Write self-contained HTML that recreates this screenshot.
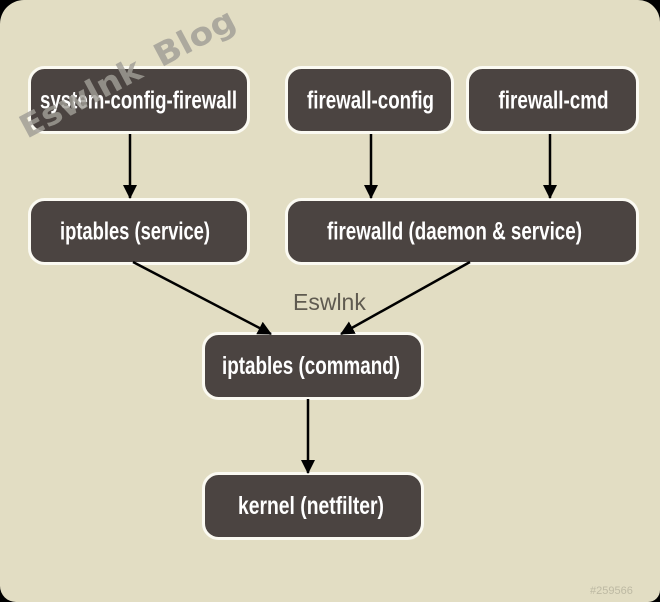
<!DOCTYPE html>
<html><head><meta charset="utf-8"><style>
html,body{margin:0;padding:0;background:#000;}
body{width:660px;height:602px;overflow:hidden;position:relative;}
.bg{position:absolute;left:0;top:0;width:660px;height:602px;background:#e2ddc3;border-radius:24px 22px 12px 16px;}
svg{position:absolute;left:0;top:0;}
text{font-family:"Liberation Sans",sans-serif;}
</style></head><body>
<div class="bg"></div>
<svg width="660" height="602" viewBox="0 0 660 602">
<defs>
<marker id="ah" markerWidth="15" markerHeight="14" refX="13" refY="7" orient="auto" markerUnits="userSpaceOnUse">
<path d="M0,0 L14,7 L0,14 Z" fill="#000"/>
</marker>
</defs>
<g fill="#4b4441" stroke="#fbfaf2" stroke-width="3">
<rect x="29.5" y="67.5" width="219" height="65" rx="15"/>
<rect x="286.5" y="67.5" width="166" height="65" rx="15"/>
<rect x="467.5" y="67.5" width="170" height="65" rx="15"/>
<rect x="29.5" y="199.5" width="219" height="64" rx="15"/>
<rect x="286.5" y="199.5" width="351" height="64" rx="15"/>
<rect x="203.5" y="333.5" width="219" height="65" rx="15"/>
<rect x="203.5" y="473.5" width="219" height="65" rx="15"/>
</g>
<g stroke="#000" stroke-width="2.5" fill="none" marker-end="url(#ah)">
<line x1="130" y1="134" x2="130" y2="198"/>
<line x1="371" y1="134" x2="371" y2="198"/>
<line x1="550" y1="134" x2="550" y2="198"/>
<line x1="133" y1="262" x2="271" y2="334"/>
<line x1="470" y1="262" x2="341" y2="334"/>
<line x1="308" y1="399" x2="308" y2="473"/>
</g>
<g fill="#ffffff" font-size="25" font-weight="bold" text-anchor="middle">
<text x="138.5" y="108.5" textLength="197" lengthAdjust="spacingAndGlyphs">system-config-firewall</text>
<text x="370.5" y="108.5" textLength="127" lengthAdjust="spacingAndGlyphs">firewall-config</text>
<text x="553.5" y="108.5" textLength="110" lengthAdjust="spacingAndGlyphs">firewall-cmd</text>
<text x="135" y="239.5" textLength="150" lengthAdjust="spacingAndGlyphs">iptables (service)</text>
<text x="454.5" y="239.5" textLength="255" lengthAdjust="spacingAndGlyphs">firewalld (daemon &amp; service)</text>
<text x="311" y="374" textLength="178" lengthAdjust="spacingAndGlyphs">iptables (command)</text>
<text x="311" y="514" textLength="146" lengthAdjust="spacingAndGlyphs">kernel (netfilter)</text>
</g>
<text x="293" y="310" font-size="23" fill="#5f5a50">Eswlnk</text>
<text x="590" y="594" font-size="11" fill="#bdb9a3">#259566</text>
<g transform="translate(27,139) rotate(-28)" font-size="32" font-weight="bold" fill="#a09d96" fill-opacity="0.82">
<text x="0" y="0" textLength="133" lengthAdjust="spacingAndGlyphs" style="font-family:'DejaVu Sans',sans-serif">Eswlnk</text>
<text x="152" y="0" textLength="87" lengthAdjust="spacingAndGlyphs" style="font-family:'DejaVu Sans',sans-serif">Blog</text>
</g>
</svg>
</body></html>
